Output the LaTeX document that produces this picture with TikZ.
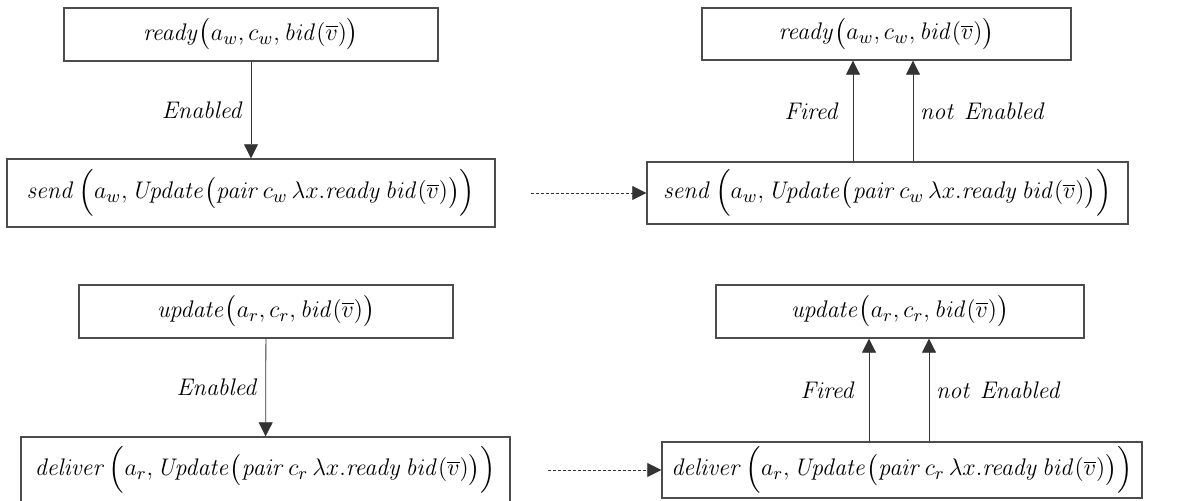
\documentclass[tikz,border=0pt]{standalone}
\usepackage{amsmath,amssymb,amsfonts}
\usepackage{xcolor}
\usepackage{tikz}
\usetikzlibrary{arrows.meta}

\begin{document}
\begin{tikzpicture}[x=0.5pt, y=-0.5pt,
  every node/.style={font=\fontsize{13}{16}\selectfont},
  box/.style={draw=black!70, line width=0.7pt, rectangle, inner sep=0pt},
  arr/.style={-{Triangle[width=7pt,length=7pt]}, line width=0.4pt, draw=black!80},
  dot/.style={-{Triangle[width=7pt,length=7pt]}, line width=0.4pt, dash pattern=on 1.5pt off 1pt, draw=black!80}]
\useasboundingbox (0,0) rectangle (1188,501);

% write side
\node[box, minimum width=187pt, minimum height=26.5pt] (ready1) at (251,34.5) {$\mathit{ready}\big(a_w, c_w, \mathit{bid}(\overline{v})\big)$};
\node[box, minimum width=244pt, minimum height=34pt] (send1) at (251,193) {$\mathit{send}\,\Big(a_w, \mathit{Update}\big(\mathit{pair}\,c_w\,\lambda x.\mathit{ready}\,\mathit{bid}(\overline{v})\big)\Big)$};
\node[box, minimum width=184.5pt, minimum height=26pt] (ready2) at (886.5,34) {$\mathit{ready}\big(a_w, c_w, \mathit{bid}(\overline{v})\big)$};
\node[box, minimum width=240.5pt, minimum height=31pt] (send2) at (887.5,193) {$\mathit{send}\,\Big(a_w, \mathit{Update}\big(\mathit{pair}\,c_w\,\lambda x.\mathit{ready}\,\mathit{bid}(\overline{v})\big)\Big)$};

% read side
\node[box, minimum width=187pt, minimum height=26.5pt] (update1) at (266,311.5) {$\mathit{update}\big(a_r, c_r, \mathit{bid}(\overline{v})\big)$};
\node[box, minimum width=244.5pt, minimum height=33pt] (deliver1) at (265.5,470) {$\mathit{deliver}\,\Big(a_r, \mathit{Update}\big(\mathit{pair}\,c_r\,\lambda x.\mathit{ready}\,\mathit{bid}(\overline{v})\big)\Big)$};
\node[box, minimum width=184pt, minimum height=26.5pt] (update2) at (900,311.5) {$\mathit{update}\big(a_r, c_r, \mathit{bid}(\overline{v})\big)$};
\node[box, minimum width=240pt, minimum height=28pt] (deliver2) at (902,470) {$\mathit{deliver}\,\Big(a_r, \mathit{Update}\big(\mathit{pair}\,c_r\,\lambda x.\mathit{ready}\,\mathit{bid}(\overline{v})\big)\Big)$};

% enabled steps
\draw[arr] (ready1) -- node[left] {$\mathit{Enabled}$} (send1);
\draw[arr] (update1) -- node[left] {$\mathit{Enabled}$} (deliver1);

% message passing
\draw[dot, shorten <=17.5pt] (send1) -- (send2);
\draw[dot, shorten <=18.5pt] (deliver1) -- (deliver2);

% back to the guard
\draw[arr] ([xshift=-17.25pt]send2.north) -- node[left=3pt] {$\mathit{Fired}$} ([xshift=-17.25pt]send2.north |- ready2.south);
\draw[arr] ([xshift=12.75pt]send2.north) -- node[right] {$\mathit{not\ Enabled}$} ([xshift=12.75pt]send2.north |- ready2.south);
\draw[arr] ([xshift=-16.5pt]deliver2.north) -- node[left=3pt] {$\mathit{Fired}$} ([xshift=-16.5pt]deliver2.north |- update2.south);
\draw[arr] ([xshift=13.5pt]deliver2.north) -- node[right] {$\mathit{not\ Enabled}$} ([xshift=13.5pt]deliver2.north |- update2.south);
\end{tikzpicture}
\end{document}
